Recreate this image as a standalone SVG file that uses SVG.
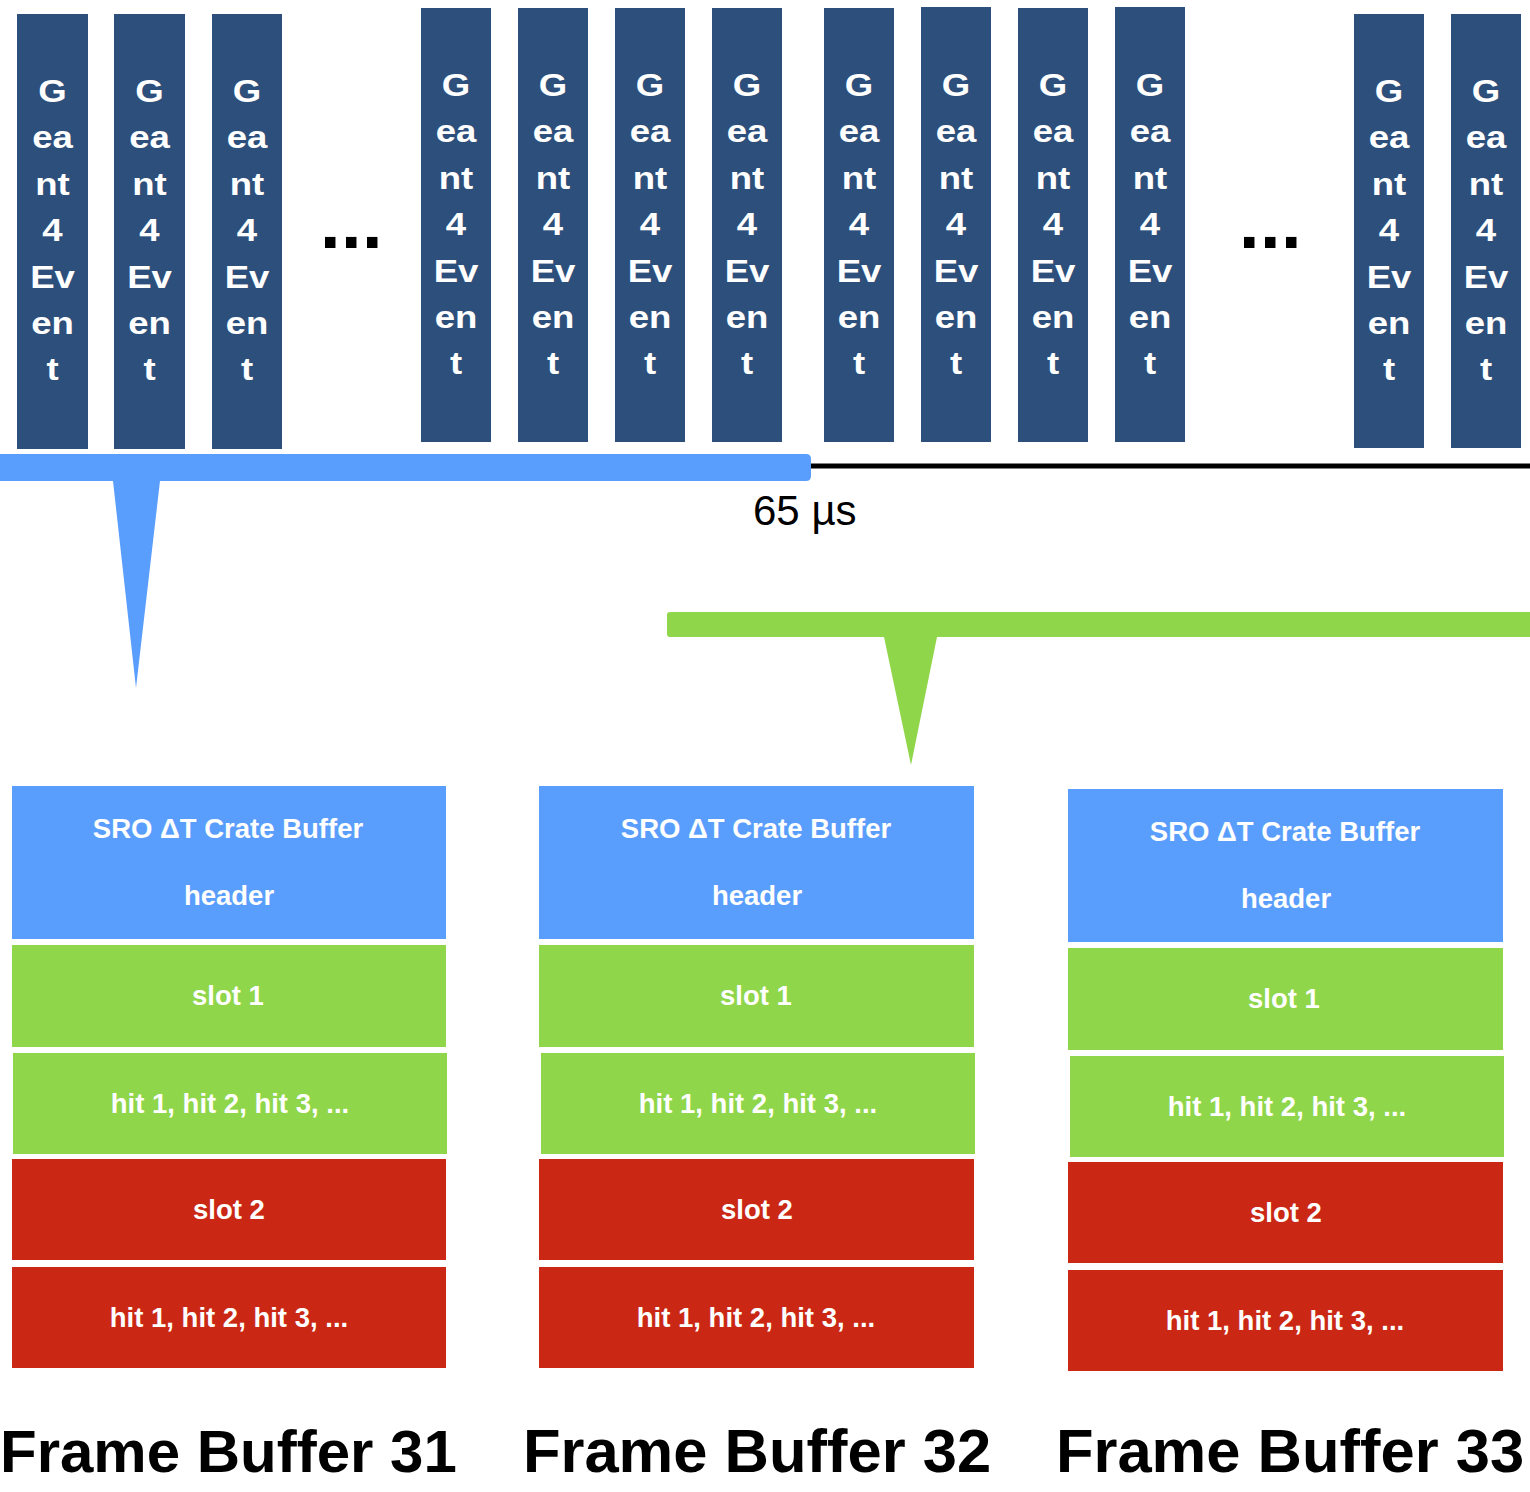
<svg xmlns="http://www.w3.org/2000/svg" width="1530" height="1492" viewBox="0 0 1530 1492">
<defs>
<style>
.ev{fill:#2D4F7C}
.evt{font-family:"Liberation Sans",Arial,sans-serif;font-weight:bold;font-size:31px;fill:#fff;text-anchor:middle}
.dots{font-family:"Liberation Sans",Arial,sans-serif;font-weight:bold;font-size:74px;fill:#000;letter-spacing:0.5px}
.hdr{fill:#5A9EFD}
.grn{fill:#90D64A}
.red{fill:#CA2814}
.bt{font-family:"Liberation Sans",Arial,sans-serif;font-weight:bold;font-size:27.5px;fill:#fff;text-anchor:middle}
.title{font-family:"Liberation Sans",Arial,sans-serif;font-weight:bold;font-size:61.5px;fill:#000;text-anchor:middle}
.lbl{font-family:"Liberation Sans",Arial,sans-serif;font-size:42px;fill:#000}
</style>
<g id="evtext">
<text class="evt" x="0" y="0">G</text>
<text class="evt" x="0" y="46.4">ea</text>
<text class="evt" x="0" y="92.8">nt</text>
<text class="evt" x="0" y="139.2">4</text>
<text class="evt" x="0" y="185.6">Ev</text>
<text class="evt" x="0" y="232">en</text>
<text class="evt" x="0" y="278.4">t</text>
</g>
</defs>
<rect width="1530" height="1492" fill="#fff"/>

<g id="connectors">
<path id="window31" d="M0,454 H806 Q811,454 811,459 V476 Q811,481 806,481 H160 L136,688 L113,481 H0 Z" fill="#5A9EFD"/>
<line id="timeline" x1="811" y1="466" x2="1530" y2="466" stroke="#000" stroke-width="5"/>
<path id="window32" d="M670,612 H1530 V637 H937 L911,765 L884,637 H670 Q667,637 667,634 V615 Q667,612 670,612 Z" fill="#90D64A"/>
</g>

<g id="events-a">
<g id="ev1"><rect class="ev" x="17" y="14" width="71" height="435"/><use href="#evtext" transform="translate(52.5,102) scale(1.18,1)"/></g>
<g id="ev2"><rect class="ev" x="114" y="14" width="71" height="435"/><use href="#evtext" transform="translate(149.5,102) scale(1.18,1)"/></g>
<g id="ev3"><rect class="ev" x="212" y="14" width="70" height="435"/><use href="#evtext" transform="translate(247,102) scale(1.18,1)"/></g>
</g>
<g id="ellipsis1"><text class="dots" x="320" y="248">...</text></g>

<g id="events-b">
<g id="ev4"><rect class="ev" x="421" y="8" width="70" height="434"/><use href="#evtext" transform="translate(456,96) scale(1.18,1)"/></g>
<g id="ev5"><rect class="ev" x="518" y="8" width="70" height="434"/><use href="#evtext" transform="translate(553,96) scale(1.18,1)"/></g>
<g id="ev6"><rect class="ev" x="615" y="8" width="70" height="434"/><use href="#evtext" transform="translate(650,96) scale(1.18,1)"/></g>
<g id="ev7"><rect class="ev" x="712" y="8" width="70" height="434"/><use href="#evtext" transform="translate(747,96) scale(1.18,1)"/></g>
<g id="ev8"><rect class="ev" x="824" y="8" width="70" height="434"/><use href="#evtext" transform="translate(859,96) scale(1.18,1)"/></g>
<g id="ev9"><rect class="ev" x="921" y="7" width="70" height="435"/><use href="#evtext" transform="translate(956,96) scale(1.18,1)"/></g>
<g id="ev10"><rect class="ev" x="1018" y="8" width="70" height="434"/><use href="#evtext" transform="translate(1053,96) scale(1.18,1)"/></g>
<g id="ev11"><rect class="ev" x="1115" y="7" width="70" height="435"/><use href="#evtext" transform="translate(1150,96) scale(1.18,1)"/></g>
</g>
<g id="ellipsis2"><text class="dots" x="1239" y="248">...</text></g>

<g id="events-c">
<g id="ev12"><rect class="ev" x="1354" y="14" width="70" height="434"/><use href="#evtext" transform="translate(1389,102) scale(1.18,1)"/></g>
<g id="ev13"><rect class="ev" x="1451" y="14" width="70" height="434"/><use href="#evtext" transform="translate(1486,102) scale(1.18,1)"/></g>
</g>

<g id="label-65us"><text class="lbl" x="753" y="525">65 µs</text></g>

<g id="fb31">
<rect class="hdr" x="12" y="786" width="434" height="153"/>
<text class="bt" x="228" y="838">SRO ΔT Crate Buffer</text>
<text class="bt" x="229" y="905">header</text>
<rect class="grn" x="12" y="945" width="434" height="102"/>
<text class="bt" x="228" y="1005">slot 1</text>
<rect class="grn" x="13" y="1053" width="434" height="101"/>
<text class="bt" x="230" y="1113">hit 1, hit 2, hit 3, ...</text>
<rect class="red" x="12" y="1159" width="434" height="101"/>
<text class="bt" x="229" y="1219">slot 2</text>
<rect class="red" x="12" y="1267" width="434" height="101"/>
<text class="bt" x="229" y="1327">hit 1, hit 2, hit 3, ...</text>
<text class="title" x="0" y="1472" style="font-size:60px;text-anchor:start">Frame Buffer 31</text>
</g>

<g id="fb32">
<rect class="hdr" x="539" y="786" width="435" height="153"/>
<text class="bt" x="756" y="838">SRO ΔT Crate Buffer</text>
<text class="bt" x="757" y="905">header</text>
<rect class="grn" x="539" y="945" width="435" height="102"/>
<text class="bt" x="756" y="1005">slot 1</text>
<rect class="grn" x="541" y="1053" width="434" height="101"/>
<text class="bt" x="758" y="1113">hit 1, hit 2, hit 3, ...</text>
<rect class="red" x="539" y="1159" width="435" height="101"/>
<text class="bt" x="757" y="1219">slot 2</text>
<rect class="red" x="539" y="1267" width="435" height="101"/>
<text class="bt" x="756" y="1327">hit 1, hit 2, hit 3, ...</text>
<text class="title" x="757" y="1472">Frame Buffer 32</text>
</g>

<g id="fb33">
<rect class="hdr" x="1068" y="789" width="435" height="153"/>
<text class="bt" x="1285" y="841">SRO ΔT Crate Buffer</text>
<text class="bt" x="1286" y="908">header</text>
<rect class="grn" x="1068" y="948" width="435" height="102"/>
<text class="bt" x="1284" y="1008">slot 1</text>
<rect class="grn" x="1070" y="1056" width="434" height="101"/>
<text class="bt" x="1287" y="1116">hit 1, hit 2, hit 3, ...</text>
<rect class="red" x="1068" y="1162" width="435" height="101"/>
<text class="bt" x="1286" y="1222">slot 2</text>
<rect class="red" x="1068" y="1270" width="435" height="101"/>
<text class="bt" x="1285" y="1330">hit 1, hit 2, hit 3, ...</text>
<text class="title" x="1290" y="1472">Frame Buffer 33</text>
</g>
</svg>
